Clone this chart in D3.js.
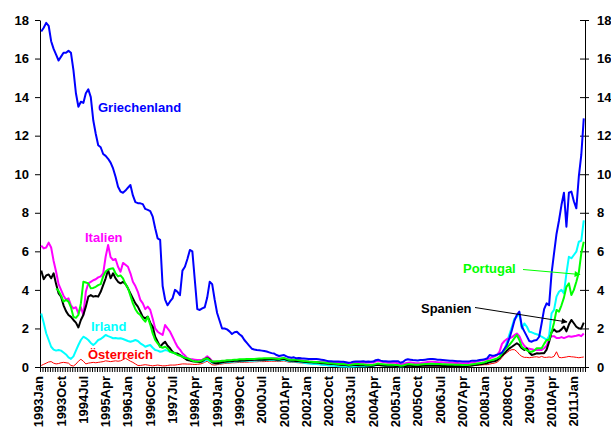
<!doctype html>
<html lang="de">
<head>
<meta charset="utf-8">
<title>Renditeabstand zu Deutschland</title>
<script src="https://cdnjs.cloudflare.com/ajax/libs/d3/7.8.5/d3.min.js"></script>
<style>
  body { margin: 0; background: #fff; }
  text { font-family: Arial, "Liberation Sans", sans-serif; font-weight: bold; }
</style>
</head>
<body>
<svg width="611" height="428" id="svg"></svg>
<script>
// monthly spreads, 1993Jan .. 2011Apr (one row per year)
var griechenland = [
  17.4, 17.6, 17.85, 17.7, 16.9, 16.5, 16.2, 15.9, 16.1, 16.3, 16.3, 16.4,
  16.3, 15.4, 14.2, 13.5, 13.76, 13.7, 14.2, 14.4, 14.0, 12.8, 12.1, 11.5,
  11.4, 11.05, 10.95, 10.8, 10.6, 10.3, 9.87, 9.35, 9.1, 9.04, 9.15, 9.3,
  9.44, 8.9, 8.55, 8.5, 8.49, 8.45, 8.2, 8.15, 8.09, 7.8, 7.2, 6.67,
  6.59, 4.2, 3.5, 3.2, 3.4, 3.56, 4.0, 3.9, 3.73, 5.0, 5.2, 5.6,
  6.07, 6.0, 4.5, 3.0, 2.96, 3.04, 3.1, 3.6, 4.42, 4.3, 3.5, 2.8,
  2.4, 2.0, 2.0, 1.95, 1.85, 1.71, 1.8, 1.83, 1.7, 1.6, 1.4, 1.25,
  1.1, 0.95, 0.91, 0.88, 0.87, 0.85, 0.83, 0.8, 0.76, 0.72, 0.7, 0.62,
  0.57, 0.6, 0.62, 0.55, 0.5, 0.48, 0.5, 0.45, 0.47, 0.45, 0.44, 0.43,
  0.42, 0.42, 0.41, 0.42, 0.4, 0.38, 0.36, 0.33, 0.3, 0.3, 0.29, 0.29,
  0.28, 0.27, 0.27, 0.25, 0.22, 0.24, 0.27, 0.29, 0.28, 0.28, 0.3, 0.27,
  0.28, 0.27, 0.28, 0.35, 0.38, 0.33, 0.3, 0.3, 0.28, 0.28, 0.3, 0.3,
  0.3, 0.22, 0.26, 0.36, 0.4, 0.38, 0.36, 0.35, 0.34, 0.36, 0.36, 0.38,
  0.4, 0.41, 0.42, 0.4, 0.38, 0.37, 0.36, 0.35, 0.34, 0.33, 0.32, 0.31,
  0.3, 0.3, 0.29, 0.28, 0.28, 0.3, 0.33, 0.33, 0.34, 0.36, 0.38, 0.4,
  0.45, 0.62, 0.58, 0.6, 0.64, 0.68, 0.75, 0.95, 1.14, 1.5, 1.92, 2.4,
  2.7, 2.87, 2.1, 1.85, 1.6, 1.35, 1.31, 1.38, 1.4, 1.57, 2.27, 3.0,
  3.3, 3.2, 4.86, 5.9, 6.9, 7.6, 8.4, 9.04, 7.28, 9.04, 9.1, 8.6,
  8.23, 9.87, 11.0, 12.9
];
var italien = [
  6.3, 6.15, 6.2, 6.45, 6.2, 5.5, 4.94, 4.3, 4.0, 3.7, 3.5, 3.56,
  3.2, 3.04, 3.1, 2.78, 3.1, 2.7, 3.9, 4.34, 4.42, 4.5, 4.55, 4.65,
  4.7, 4.86, 5.72, 6.33, 5.7, 5.55, 5.6, 5.2, 4.94, 5.4, 5.3, 5.2,
  4.86, 4.42, 4.2, 3.9, 3.48, 3.3, 3.0, 3.13, 2.96, 2.5, 2.0, 1.83,
  1.74, 1.66, 2.18, 2.0, 1.83, 1.57, 1.3, 1.05, 0.9, 0.71, 0.6, 0.45,
  0.42, 0.4, 0.38, 0.36, 0.36, 0.38, 0.45, 0.55, 0.45, 0.3, 0.28, 0.27,
  0.28, 0.3, 0.3, 0.32, 0.33, 0.33, 0.34, 0.35, 0.36, 0.36, 0.37, 0.38,
  0.38, 0.38, 0.39, 0.4, 0.4, 0.41, 0.42, 0.42, 0.43, 0.44, 0.45, 0.45,
  0.44, 0.42, 0.45, 0.42, 0.38, 0.37, 0.38, 0.37, 0.36, 0.35, 0.33, 0.3,
  0.28, 0.27, 0.27, 0.26, 0.26, 0.25, 0.25, 0.24, 0.24, 0.23, 0.22, 0.22,
  0.21, 0.2, 0.2, 0.18, 0.15, 0.17, 0.2, 0.22, 0.22, 0.23, 0.24, 0.22,
  0.24, 0.23, 0.23, 0.28, 0.32, 0.28, 0.26, 0.24, 0.22, 0.22, 0.23, 0.22,
  0.2, 0.14, 0.16, 0.2, 0.22, 0.24, 0.22, 0.2, 0.19, 0.2, 0.22, 0.24,
  0.26, 0.27, 0.27, 0.26, 0.25, 0.24, 0.24, 0.23, 0.22, 0.22, 0.22, 0.21,
  0.21, 0.2, 0.2, 0.2, 0.2, 0.22, 0.24, 0.26, 0.3, 0.32, 0.35, 0.38,
  0.4, 0.45, 0.5, 0.55, 0.62, 0.8, 1.2, 1.35, 1.45, 1.49, 1.55, 1.65,
  1.74, 1.6, 1.3, 1.1, 0.97, 0.95, 0.92, 0.88, 0.88, 0.88, 0.88, 0.97,
  1.1, 1.45, 1.6, 1.6, 1.5, 1.5, 1.55, 1.5, 1.55, 1.6, 1.57, 1.6,
  1.62, 1.66, 1.6, 1.74
];
var spanien = [
  5.0, 4.55, 4.75, 4.8, 4.6, 4.86, 4.3, 3.82, 3.65, 3.2, 2.9, 2.7,
  2.6, 2.44, 2.3, 2.05, 2.44, 2.7, 3.13, 3.65, 3.73, 3.65, 3.68, 3.65,
  3.9, 4.25, 4.6, 5.03, 4.6, 4.86, 4.6, 4.42, 4.34, 4.42, 4.3, 4.08,
  3.82, 3.56, 3.3, 3.13, 2.87, 2.6, 2.52, 2.61, 2.3, 2.09, 1.57, 1.31,
  1.05, 1.2, 1.31, 1.1, 0.97, 0.79, 0.71, 0.7, 0.62, 0.53, 0.45, 0.36,
  0.33, 0.3, 0.28, 0.27, 0.25, 0.3, 0.4, 0.48, 0.4, 0.25, 0.2, 0.2,
  0.22, 0.25, 0.27, 0.28, 0.3, 0.3, 0.32, 0.32, 0.33, 0.34, 0.34, 0.35,
  0.36, 0.36, 0.37, 0.37, 0.38, 0.38, 0.38, 0.39, 0.4, 0.4, 0.4, 0.38,
  0.38, 0.4, 0.42, 0.38, 0.34, 0.32, 0.32, 0.3, 0.3, 0.28, 0.27, 0.26,
  0.25, 0.24, 0.23, 0.23, 0.22, 0.2, 0.19, 0.18, 0.17, 0.16, 0.15, 0.14,
  0.13, 0.12, 0.12, 0.1, 0.08, 0.09, 0.1, 0.1, 0.09, 0.09, 0.1, 0.08,
  0.08, 0.07, 0.07, 0.1, 0.12, 0.09, 0.08, 0.07, 0.06, 0.06, 0.06, 0.05,
  0.04, 0.02, 0.03, 0.05, 0.07, 0.06, 0.05, 0.05, 0.04, 0.05, 0.06, 0.06,
  0.07, 0.07, 0.06, 0.06, 0.06, 0.06, 0.05, 0.05, 0.05, 0.05, 0.05, 0.05,
  0.05, 0.05, 0.04, 0.05, 0.05, 0.06, 0.08, 0.1, 0.12, 0.14, 0.16, 0.18,
  0.2, 0.25, 0.28, 0.3, 0.35, 0.45, 0.6, 0.71, 0.85, 0.97, 1.05, 1.14,
  1.23, 1.14, 0.97, 0.88, 0.97, 0.75, 0.62, 0.66, 0.71, 0.7, 0.71, 0.71,
  0.9, 1.3, 1.8, 1.95, 1.83, 1.85, 1.95, 2.1, 1.85, 2.2, 2.44, 2.27,
  2.09, 2.0, 2.0, 2.3
];
var portugal = [
  null, null, null, null, null, null, 4.08, 3.95, 3.7, 3.39, 3.48, 3.39,
  3.1, 2.6, 2.55, 2.7, 3.3, 4.42, 4.38, 4.34, 4.08, 4.1, 4.16, 4.25,
  4.3, 4.7, 4.95, 5.06, 5.1, 5.12, 4.86, 4.7, 4.75, 4.6, 4.3, 4.1,
  3.7, 3.3, 3.0, 2.8, 2.7, 2.5, 2.35, 2.61, 2.2, 1.74, 1.4, 1.23,
  1.05, 1.0, 1.05, 0.97, 0.8, 0.75, 0.71, 0.62, 0.58, 0.53, 0.48, 0.45,
  0.4, 0.33, 0.28, 0.28, 0.3, 0.35, 0.42, 0.45, 0.35, 0.28, 0.28, 0.3,
  0.3, 0.32, 0.33, 0.35, 0.35, 0.36, 0.38, 0.38, 0.4, 0.4, 0.4, 0.41,
  0.41, 0.42, 0.42, 0.43, 0.44, 0.44, 0.45, 0.45, 0.46, 0.45, 0.44, 0.43,
  0.42, 0.45, 0.47, 0.42, 0.38, 0.37, 0.38, 0.37, 0.35, 0.33, 0.31, 0.3,
  0.28, 0.27, 0.26, 0.26, 0.25, 0.24, 0.23, 0.22, 0.2, 0.19, 0.18, 0.17,
  0.16, 0.15, 0.15, 0.13, 0.11, 0.12, 0.14, 0.15, 0.15, 0.14, 0.14, 0.12,
  0.12, 0.11, 0.12, 0.15, 0.18, 0.15, 0.14, 0.13, 0.12, 0.12, 0.12, 0.11,
  0.1, 0.06, 0.08, 0.12, 0.15, 0.14, 0.13, 0.12, 0.12, 0.13, 0.14, 0.15,
  0.16, 0.17, 0.17, 0.16, 0.15, 0.15, 0.14, 0.14, 0.13, 0.13, 0.13, 0.12,
  0.12, 0.12, 0.11, 0.11, 0.11, 0.12, 0.14, 0.16, 0.18, 0.2, 0.22, 0.25,
  0.3, 0.33, 0.36, 0.4, 0.45, 0.53, 0.7, 0.88, 1.0, 1.15, 1.31, 1.5,
  1.66, 1.4, 1.05, 0.95, 0.88, 0.8, 0.79, 0.85, 0.97, 0.97, 0.97, 1.2,
  1.4, 1.4, 1.8, 2.3, 2.96, 2.87, 3.2, 3.6, 4.16, 4.34, 3.73, 4.0,
  4.42, 4.9, 5.9, 6.5
];
var irland = [
  2.78, 2.3, 1.75, 1.4, 1.05, 0.9, 0.85, 0.88, 0.85, 0.75, 0.65, 0.5,
  0.42, 0.55, 0.85, 1.14, 1.4, 1.57, 1.5, 1.4, 1.25, 1.14, 1.25, 1.4,
  1.45, 1.55, 1.66, 1.6, 1.55, 1.49, 1.5, 1.48, 1.49, 1.45, 1.4, 1.35,
  1.31, 1.35, 1.4, 1.35, 1.23, 1.15, 1.05, 1.1, 1.14, 1.0, 0.88, 0.85,
  0.79, 0.82, 0.88, 0.85, 0.79, 0.75, 0.71, 0.68, 0.62, 0.55, 0.5, 0.45,
  0.4, 0.36, 0.3, 0.28, 0.26, 0.27, 0.32, 0.38, 0.3, 0.22, 0.2, 0.2,
  0.2, 0.22, 0.24, 0.25, 0.26, 0.27, 0.28, 0.29, 0.3, 0.3, 0.31, 0.32,
  0.32, 0.33, 0.33, 0.34, 0.34, 0.35, 0.35, 0.36, 0.36, 0.37, 0.36, 0.35,
  0.34, 0.36, 0.38, 0.34, 0.3, 0.28, 0.28, 0.27, 0.26, 0.24, 0.22, 0.2,
  0.18, 0.17, 0.16, 0.15, 0.14, 0.12, 0.11, 0.1, 0.08, 0.07, 0.06, 0.05,
  0.04, 0.03, 0.03, 0.02, 0.01, 0.02, 0.03, 0.04, 0.04, 0.04, 0.05, 0.04,
  0.05, 0.05, 0.06, 0.09, 0.12, 0.1, 0.08, 0.07, 0.06, 0.06, 0.06, 0.05,
  0.04, 0.02, 0.03, 0.06, 0.08, 0.08, 0.07, 0.07, 0.07, 0.08, 0.09, 0.1,
  0.11, 0.11, 0.1, 0.1, 0.1, 0.09, 0.09, 0.09, 0.08, 0.08, 0.08, 0.08,
  0.07, 0.07, 0.07, 0.07, 0.08, 0.1, 0.12, 0.14, 0.16, 0.18, 0.2, 0.22,
  0.2, 0.25, 0.3, 0.35, 0.4, 0.5, 0.65, 0.9, 1.3, 1.7, 2.09, 2.5,
  2.61, 2.78, 2.0, 2.26, 2.1, 1.83, 1.8, 1.74, 1.7, 1.65, 1.57, 1.5,
  1.4, 1.6, 2.78, 2.96, 3.65, 3.9, 4.0, 3.82, 4.86, 5.72, 5.64, 5.81,
  5.98, 6.5, 6.55, 7.6
];
var oesterreich = [
  0.08, 0.14, 0.2, 0.26, 0.28, 0.2, 0.16, 0.18, 0.22, 0.24, 0.22, 0.2,
  0.08, 0.05, 0.15, 0.3, 0.4, 0.3, 0.16, 0.2, 0.22, 0.24, 0.22, 0.24,
  0.26, 0.28, 0.32, 0.3, 0.28, 0.3, 0.32, 0.3, 0.32, 0.38, 0.45, 0.38,
  0.3, 0.24, 0.16, 0.08, 0.08, 0.1, 0.12, 0.1, 0.08, 0.06, 0.08, 0.1,
  0.08, 0.06, 0.06, 0.08, 0.1, 0.1, 0.1, 0.12, 0.14, 0.16, 0.16, 0.15,
  0.15, 0.14, 0.13, 0.14, 0.15, 0.18, 0.25, 0.3, 0.2, 0.12, 0.1, 0.12,
  0.14, 0.16, 0.18, 0.2, 0.2, 0.22, 0.22, 0.23, 0.24, 0.24, 0.25, 0.25,
  0.26, 0.26, 0.27, 0.27, 0.28, 0.28, 0.28, 0.29, 0.3, 0.3, 0.3, 0.29,
  0.28, 0.3, 0.32, 0.28, 0.25, 0.24, 0.24, 0.23, 0.22, 0.21, 0.2, 0.19,
  0.18, 0.17, 0.16, 0.16, 0.15, 0.14, 0.13, 0.12, 0.11, 0.1, 0.1, 0.09,
  0.09, 0.08, 0.08, 0.07, 0.06, 0.07, 0.08, 0.08, 0.08, 0.07, 0.07, 0.06,
  0.06, 0.06, 0.06, 0.08, 0.1, 0.08, 0.07, 0.06, 0.06, 0.05, 0.05, 0.05,
  0.05, 0.03, 0.04, 0.05, 0.06, 0.06, 0.05, 0.05, 0.05, 0.05, 0.06, 0.06,
  0.07, 0.07, 0.06, 0.06, 0.06, 0.05, 0.05, 0.05, 0.05, 0.05, 0.05, 0.05,
  0.05, 0.05, 0.05, 0.05, 0.05, 0.06, 0.07, 0.08, 0.09, 0.1, 0.11, 0.12,
  0.12, 0.15, 0.18, 0.2, 0.25, 0.35, 0.5, 0.65, 0.75, 0.85, 0.9, 0.9,
  0.8, 0.65, 0.55, 0.5, 0.5, 0.48, 0.5, 0.52, 0.53, 0.5, 0.55, 0.5,
  0.5, 0.52, 0.5, 0.55, 0.79, 0.5, 0.48, 0.5, 0.52, 0.55, 0.53, 0.52,
  0.5, 0.48, 0.5, 0.52
];

var yTicks = [0, 2, 4, 6, 8, 10, 12, 14, 16, 18];
var xLabels = ["1993Jan", "1993Oct", "1994Jul", "1995Apr", "1996Jan", "1996Oct", "1997Jul",
  "1998Apr", "1999Jan", "1999Oct", "2000Jul", "2001Apr", "2002Jan", "2002Oct", "2003Jul",
  "2004Apr", "2005Jan", "2005Oct", "2006Jul", "2007Apr", "2008Jan", "2008Oct", "2009Jul",
  "2010Apr", "2011Jan"];

// month categories 1993Jan ... 2011Apr
var monthNames = ["Jan", "Feb", "Mar", "Apr", "May", "Jun", "Jul", "Aug", "Sep", "Oct", "Nov", "Dec"];
var months = [];
for (var yr = 1993; months.length < griechenland.length; yr++) {
  for (var m = 0; m < 12 && months.length < griechenland.length; m++) months.push(yr + monthNames[m]);
}

var series = [
  {name: "Österreich", values: oesterreich, color: "#ff0000", width: 1},
  {name: "Irland", values: irland, color: "#00ffff", width: 2},
  {name: "Italien", values: italien, color: "#ff00ff", width: 2},
  {name: "Spanien", values: spanien, color: "#000000", width: 2},
  {name: "Portugal", values: portugal, color: "#00ff00", width: 2},
  {name: "Griechenland", values: griechenland, color: "#0000ff", width: 2}
];

var svg = d3.select("#svg");

var x = d3.scaleLinear().domain([-0.5, months.length - 0.5]).range([40, 585]);
var y = d3.scaleLinear().domain([0, 18]).range([367, 20]);

// axes
var left = svg.append("g").attr("transform", "translate(40,0)")
  .call(d3.axisLeft(y).tickValues(yTicks).tickSize(5).tickSizeOuter(0).tickPadding(6));
var right = svg.append("g").attr("transform", "translate(585,0)")
  .call(d3.axisRight(y).tickValues(yTicks).tickSize(4).tickSizeOuter(0).tickPadding(8));
right.selectAll(".tick line").attr("x1", -5);

var bottom = svg.append("g").attr("transform", "translate(0,367)")
  .call(d3.axisBottom(x).tickValues(d3.range(-0.5, months.length, 1)).tickSize(5)
    .tickSizeOuter(0).tickFormat(""));

[left, right, bottom].forEach(function(g) {
  g.attr("font-family", null).attr("font-size", null);
  g.selectAll("text").style("font-size", "13px").attr("fill", "#000");
  g.selectAll("path, line").attr("stroke", "#000");
});

svg.append("g").selectAll("text")
  .data(xLabels)
  .enter().append("text")
  .attr("transform", function(d) { return "translate(" + (x(months.indexOf(d)) - 2.5) + ",376) rotate(-90)"; })
  .attr("text-anchor", "end")
  .attr("dy", "0.35em")
  .style("font-size", "13px")
  .text(function(d) { return d; });

// lines
var line = d3.line()
  .defined(function(d) { return d != null; })
  .x(function(d, i) { return x(i); })
  .y(function(d) { return y(d); });

svg.append("g").selectAll("path")
  .data(series)
  .enter().append("path")
  .attr("d", function(s) { return line(s.values); })
  .attr("fill", "none")
  .attr("stroke", function(s) { return s.color; })
  .attr("stroke-width", function(s) { return s.width; })
  .attr("stroke-linejoin", "round");

// labels
var labels = [
  {text: "Griechenland", x: 98, y: 112, color: "#0000ff"},
  {text: "Italien", x: 85, y: 242, color: "#ff00ff"},
  {text: "Irland", x: 91, y: 331, color: "#00ffff"},
  {text: "Österreich", x: 88, y: 359, color: "#ff0000"},
  {text: "Portugal", x: 463, y: 273, color: "#00ff00"},
  {text: "Spanien", x: 421, y: 313, color: "#000000"}
];
svg.append("g").selectAll("text")
  .data(labels)
  .enter().append("text")
  .attr("x", function(d) { return d.x; })
  .attr("y", function(d) { return d.y; })
  .attr("fill", function(d) { return d.color; })
  .style("font-size", "13px")
  .text(function(d) { return d.text; });

// arrows
var defs = svg.append("defs");
[["arrGreen", "#00ff00"], ["arrBlack", "#000000"]].forEach(function(a) {
  defs.append("marker").attr("id", a[0])
    .attr("viewBox", "0 0 10 10").attr("refX", 9).attr("refY", 5)
    .attr("markerWidth", 7).attr("markerHeight", 6).attr("orient", "auto")
    .attr("markerUnits", "userSpaceOnUse")
    .append("path").attr("d", "M0,0L10,5L0,10z").attr("fill", a[1]);
});
svg.append("line").attr("x1", 523).attr("y1", 269.5).attr("x2", 580).attr("y2", 274.5)
  .attr("stroke", "#00ff00").attr("stroke-width", 1).attr("marker-end", "url(#arrGreen)");
svg.append("line").attr("x1", 475).attr("y1", 307.5).attr("x2", 567).attr("y2", 322)
  .attr("stroke", "#000").attr("stroke-width", 1).attr("marker-end", "url(#arrBlack)");
</script>
</body>
</html>
